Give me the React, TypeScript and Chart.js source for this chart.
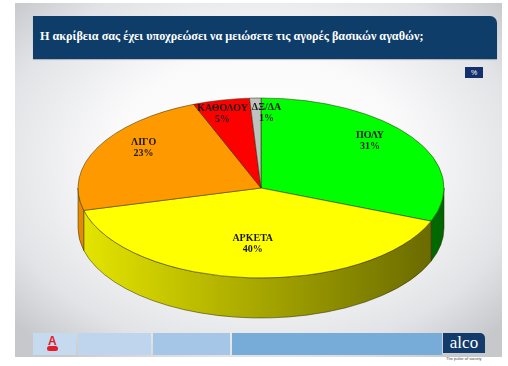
import React, { useEffect, useRef } from 'react';
import { Chart, registerables } from 'chart.js';

Chart.register(...registerables);

const title = 'Η ακρίβεια σας έχει υποχρεώσει να μειώσετε τις αγορές βασικών αγαθών;';
const categories = ['ΠΟΛΥ', 'ΑΡΚΕΤΑ', 'ΛΙΓΟ', 'ΚΑΘΟΛΟΥ', 'ΔΞ/ΔΑ'];
const values = [31, 40, 23, 5, 1];
const colors = ['#00ff00', '#ffff00', '#ff9900', '#ff0000', '#c0c0c0'];

const W = 508;
const H = 366;
const PIE = { cx: 261, cy: 188, rx: 183, ry: 90, depth: 40 };

function shade(hex: string, f: number): string {
  const n = parseInt(hex.slice(1), 16);
  const r = Math.round(((n >> 16) & 255) * f);
  const g = Math.round(((n >> 8) & 255) * f);
  const b = Math.round((n & 255) * f);
  return `rgb(${r},${g},${b})`;
}

const pie3d = {
  id: 'pie3d',
  beforeDatasetsDraw(chart: any) {
    const ctx = chart.ctx as CanvasRenderingContext2D;
    const meta = chart.getDatasetMeta(0);
    const { cx, cy, rx, ry, depth } = PIE;
    meta.data.forEach((el: any, i: number) => {
      const s = el.startAngle;
      const e = el.endAngle;
      const a0 = Math.max(s, 0);
      const a1 = Math.min(e, Math.PI);
      if (a1 <= a0) return;
      const g = ctx.createLinearGradient(cx - rx, 0, cx + rx, 0);
      g.addColorStop(0, shade(colors[i], 0.9));
      g.addColorStop(1, shade(colors[i], 0.4));
      ctx.beginPath();
      ctx.ellipse(cx, cy, rx, ry, 0, a0, a1, false);
      ctx.ellipse(cx, cy + depth, rx, ry, 0, a1, a0, true);
      ctx.closePath();
      ctx.fillStyle = g;
      ctx.fill();
      ctx.strokeStyle = 'rgba(40,40,0,0.85)';
      ctx.lineWidth = 0.6;
      ctx.stroke();
    });
    const el0 = meta.data[0];
    ctx.save();
    ctx.translate(cx, cy);
    ctx.scale(1, ry / rx);
    ctx.translate(-el0.x, -el0.y);
  },
  afterDatasetsDraw(chart: any) {
    const ctx = chart.ctx as CanvasRenderingContext2D;
    ctx.restore();
    const meta = chart.getDatasetMeta(0);
    const { cx, cy, rx, ry } = PIE;
    ctx.save();
    ctx.font = 'bold 10px "Liberation Serif", "Times New Roman", serif';
    ctx.fillStyle = '#1a1a1a';
    ctx.textAlign = 'center';
    ctx.textBaseline = 'middle';
    const labels = meta.data.map((el: any, i: number) => {
      const mid = (el.startAngle + el.endAngle) / 2;
      const l1 = categories[i];
      const l2 = `${values[i]}%`;
      const w = Math.max(ctx.measureText(l1).width, ctx.measureText(l2).width);
      return {
        x: cx + 0.72 * rx * Math.cos(mid),
        y: cy + ry * (0.73 * Math.sin(mid) - 0.11),
        w,
        l1,
        l2,
      };
    });
    for (let it = 0; it < 10; it++) {
      for (let a = 0; a < labels.length; a++) {
        for (let b = a + 1; b < labels.length; b++) {
          const A = labels[a];
          const B = labels[b];
          if (Math.abs(A.y - B.y) > 22) continue;
          const need = (A.w + B.w) / 2 + 4;
          const d = Math.abs(A.x - B.x);
          if (d < need) {
            const push = (need - d) / 2;
            if (A.x <= B.x) {
              A.x -= push;
              B.x += push;
            } else {
              A.x += push;
              B.x -= push;
            }
          }
        }
      }
    }
    labels.forEach((L: any) => {
      ctx.fillText(L.l1, L.x, L.y - 5.5);
      ctx.fillText(L.l2, L.x, L.y + 5.5);
    });
    ctx.restore();
  },
};

export default function App() {
  const ref = useRef<HTMLCanvasElement | null>(null);
  useEffect(() => {
    if (!ref.current) return;
    const chart = new Chart(ref.current, {
      type: 'pie',
      data: {
        labels: categories,
        datasets: [
          {
            data: values,
            backgroundColor: colors,
            borderColor: 'rgba(40,40,0,0.85)',
            borderWidth: 0.8,
            clip: false,
          } as any,
        ],
      },
      options: {
        animation: false,
        responsive: false,
        events: [],
        radius: PIE.rx,
        layout: { padding: 0 },
        plugins: {
          legend: { display: false },
          tooltip: { enabled: false },
          title: { display: false },
        },
      } as any,
      plugins: [pie3d],
    });
    return () => chart.destroy();
  }, []);

  const serif = '"Liberation Serif", "Times New Roman", serif';
  return (
    <div style={{ position: 'fixed', left: 0, top: 0, width: W, height: H, background: '#ffffff', overflow: 'hidden' }}>
      <div
        style={{
          position: 'absolute',
          left: 15,
          top: 3,
          width: 487,
          height: 354,
          background: 'radial-gradient(ellipse 68% 68% at 50% 45%, #ffffff 0%, #fafafb 45%, #e2e3e6 80%, #c6c8cc 100%)',
        }}
      />
      <div
        style={{
          position: 'absolute',
          left: 33,
          top: 16,
          width: 464,
          height: 43,
          background: '#0e3d6a',
          borderTopRightRadius: 7,
          boxShadow: '0 1px 1px rgba(0,0,0,0.25)',
        }}
      >
        <div
          style={{
            position: 'absolute',
            left: 7,
            top: 12,
            fontFamily: serif,
            fontWeight: 'bold',
            fontSize: 12.2,
            color: '#ffffff',
            whiteSpace: 'nowrap',
            lineHeight: '16px',
          }}
        >
          {title}
        </div>
      </div>
      <div
        style={{
          position: 'absolute',
          left: 465,
          top: 67,
          width: 18,
          height: 11,
          background: '#152f6c',
          color: '#fff',
          fontFamily: '"Liberation Sans", Arial, sans-serif',
          fontSize: 7,
          lineHeight: '11px',
          textAlign: 'center',
        }}
      >
        %
      </div>
      <div style={{ position: 'absolute', left: 33, top: 333, width: 43, height: 22, background: '#c6daef' }}>
        <div
          style={{
            position: 'absolute',
            left: 15,
            top: 2,
            color: '#e21c2a',
            fontFamily: '"Liberation Sans", Arial, sans-serif',
            fontWeight: 'bold',
            fontSize: 12,
            lineHeight: '12px',
          }}
        >
          A
        </div>
        <div style={{ position: 'absolute', left: 14, top: 13, width: 11, height: 5, borderRadius: 2.5, background: '#e21c2a' }} />
      </div>
      <div style={{ position: 'absolute', left: 78, top: 333, width: 73, height: 22, background: '#bfd5ee' }} />
      <div style={{ position: 'absolute', left: 153, top: 333, width: 77, height: 22, background: '#a5c6e7' }} />
      <div style={{ position: 'absolute', left: 232, top: 333, width: 210, height: 22, background: '#78acd8' }} />
      <div
        style={{
          position: 'absolute',
          left: 443,
          top: 333,
          width: 42,
          height: 20,
          background: '#123a6b',
          borderTopRightRadius: 5,
          color: '#fff',
          fontFamily: serif,
          fontSize: 17,
          lineHeight: '20px',
          textAlign: 'center',
        }}
      >
        alco
      </div>
      <div
        style={{
          position: 'absolute',
          left: 446,
          top: 356,
          fontFamily: '"Liberation Sans", Arial, sans-serif',
          fontSize: 4,
          color: '#444',
          whiteSpace: 'nowrap',
        }}
      >
        The pulse of society
      </div>
      <canvas ref={ref} width={W} height={H} style={{ position: 'absolute', left: 0, top: 0, width: W, height: H }} />
    </div>
  );
}
